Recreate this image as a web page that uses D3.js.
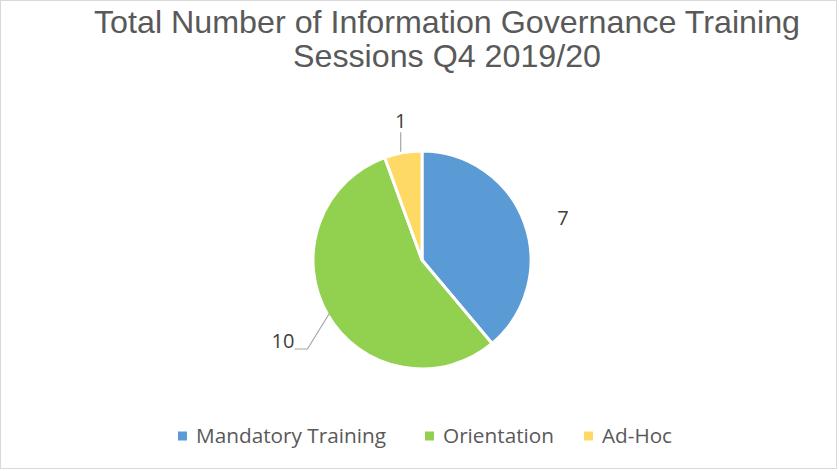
<!DOCTYPE html>
<html>
<head>
<meta charset="utf-8">
<script src="https://cdn.jsdelivr.net/npm/d3@7"></script>
<style>
  body { margin: 0; background: #fff; }
  svg text { font-family: "Open Sans", "Liberation Sans", sans-serif; }
</style>
</head>
<body>
<div id="chart"></div>
<script>
(() => {
  const categories = ['Mandatory Training', 'Orientation', 'Ad-Hoc'];
  const values = [7, 10, 1];
  const colors = ['#5B9BD5', '#92D050', '#FFD966'];
  const titleLines = ['Total Number of Information Governance Training', 'Sessions Q4 2019/20'];

  const width = 839, height = 471;
  const cx = 422, cy = 260, radius = 109;

  const svg = d3.select('#chart')
    .append('svg')
    .attr('width', width)
    .attr('height', height);

  // chart area border
  svg.append('rect')
    .attr('x', 0.5).attr('y', 0.5)
    .attr('width', 836).attr('height', 468)
    .attr('fill', '#fff')
    .attr('stroke', '#d9d9d9');

  // title uses a narrow face in the original, squeeze Liberation Sans to fit
  svg.selectAll('.title')
    .data(titleLines)
    .enter()
    .append('text')
    .attr('class', 'title')
    .attr('x', 447)
    .attr('y', (d, i) => 33 + i * 34)
    .attr('text-anchor', 'middle')
    .style('font-family', '"Liberation Sans", Arial, sans-serif')
    .style('font-size', '32px')
    .style('fill', '#595959')
    .attr('textLength', (d, i) => i === 0 ? 706 : 308)
    .attr('lengthAdjust', 'spacingAndGlyphs')
    .text(d => d);

  const data = categories.map((c, i) => ({ name: c, value: values[i], color: colors[i] }));

  const pie = d3.pie().sort(null).value(d => d.value);
  const arcs = pie(data);

  const arc = d3.arc().innerRadius(0).outerRadius(radius);

  const g = svg.append('g')
    .attr('transform', `translate(${cx}, ${cy})`);

  g.selectAll('.slice')
    .data(arcs)
    .enter()
    .append('path')
    .attr('class', 'slice')
    .attr('d', arc)
    .attr('fill', d => d.data.color)
    .attr('stroke', '#fff')
    .attr('stroke-width', 3)
    .attr('stroke-linejoin', 'round');

  // data labels
  const labelR = [150, 160, 140];
  const mid = d => (d.startAngle + d.endAngle) / 2;
  const pt = (a, r) => [Math.sin(a) * r, -Math.cos(a) * r];

  arcs.forEach((d, i) => {
    const a = mid(d);
    const p = pt(a, labelR[i]);
    const label = g.append('text')
      .attr('x', p[0])
      .attr('y', p[1])
      .attr('dy', '0.36em')
      .attr('text-anchor', 'middle')
      .style('font-size', '20px')
      .style('fill', '#404040')
      .text(d.data.value);

    if (i === 0) label.attr('y', p[1] + 9);

    if (i === 1) {
      // leader line: from text right to slice edge
      const e = pt(a, radius - 2);
      const tx = p[0] + 11;
      const ty = p[1] + 9;
      g.append('polyline')
        .attr('points', `${tx},${ty} ${tx + 13},${ty} ${e[0]},${e[1]}`)
        .attr('fill', 'none')
        .attr('stroke', '#a6a6a6')
        .attr('stroke-width', 1.2);
      label.attr('text-anchor', 'end').attr('x', tx).attr('y', ty - 8);
    }
    if (i === 2) {
      const e = pt(a, radius + 1);
      g.append('line')
        .attr('x1', p[0] + 3).attr('y1', p[1] + 10)
        .attr('x2', p[0] + 3).attr('y2', e[1])
        .attr('stroke', '#a6a6a6')
        .attr('stroke-width', 1.2);
      label.attr('x', p[0] + 3).attr('y', p[1] - 1);
    }
  });

  // legend
  const legendX = [178, 425, 584];
  const legendW = [190, 111, 70];
  const legend = svg.selectAll('.legend')
    .data(data)
    .enter()
    .append('g')
    .attr('class', 'legend')
    .attr('transform', (d, i) => `translate(${legendX[i]}, 436)`);

  legend.append('rect')
    .attr('x', 0).attr('y', -4.5)
    .attr('width', 9).attr('height', 9)
    .attr('fill', d => d.color);

  legend.append('text')
    .attr('x', 18)
    .attr('y', 7)
    .style('font-size', '20px')
    .style('fill', '#595959')
    .attr('textLength', (d, i) => legendW[i])
    .attr('lengthAdjust', 'spacingAndGlyphs')
    .text(d => d.name);
})();
</script>
</body>
</html>
